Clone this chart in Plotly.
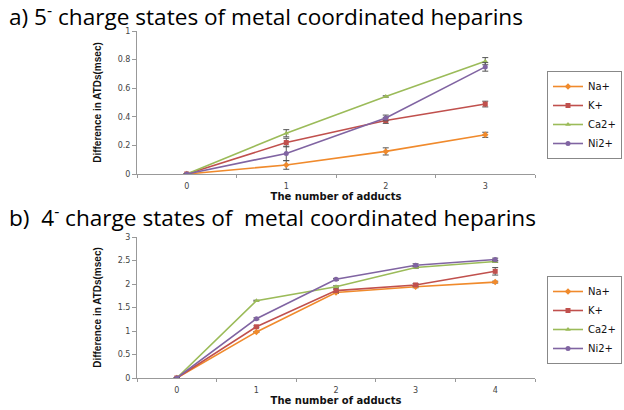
import plotly.graph_objects as go

series = ["Na+", "K+", "Ca2+", "Ni2+"]
colors = ["#F08A2C", "#C0504D", "#9BBB59", "#8064A2"]
symbols = ["diamond", "square", "triangle-up", "circle"]

# panel a) 5- charge states
x_a = [0, 1, 2, 3]
a_na = [0, 0.063, 0.158, 0.274]
a_k = [0, 0.220, 0.374, 0.489]
a_ca = [0, 0.285, 0.542, 0.789]
a_ni = [0, 0.144, 0.392, 0.749]
a_na_err = [0, 0.03, 0.025, 0.018]
a_k_err = [0, 0.03, 0.02, 0.02]
a_ca_err = [0, 0.025, 0.005, 0.025]
a_ni_err = [0, 0.05, 0.02, 0.03]

# panel b) 4- charge states
x_b = [0, 1, 2, 3, 4]
b_na = [0, 0.98, 1.82, 1.94, 2.04]
b_k = [0, 1.09, 1.86, 1.98, 2.27]
b_ca = [0, 1.645, 1.94, 2.35, 2.48]
b_ni = [0, 1.26, 2.10, 2.40, 2.52]
b_na_err = [0, 0.01, 0.02, 0.02, 0.02]
b_k_err = [0, 0.02, 0.03, 0.03, 0.08]
b_ca_err = [0, 0.01, 0.02, 0.02, 0.02]
b_ni_err = [0, 0.02, 0.02, 0.03, 0.03]

title_a = "a) 5<sup>-</sup> charge states of metal coordinated heparins"
title_b = "b)  4<sup>-</sup> charge states of  metal coordinated heparins"
xtitle = "The number of adducts"
ytitle = "Difference in ATDs(msec)"

fig = go.Figure()

for name, col, sym, ys, es in zip(series, colors, symbols,
                                   [a_na, a_k, a_ca, a_ni],
                                   [a_na_err, a_k_err, a_ca_err, a_ni_err]):
    fig.add_trace(go.Scatter(
        x=x_a, y=ys, name=name, mode="lines+markers",
        line=dict(color=col, width=1.6),
        marker=dict(symbol=sym, size=5, color=col),
        error_y=dict(type="data", array=es, color="#555555", thickness=1, width=3),
        xaxis="x", yaxis="y", legend="legend"))

for name, col, sym, ys, es in zip(series, colors, symbols,
                                   [b_na, b_k, b_ca, b_ni],
                                   [b_na_err, b_k_err, b_ca_err, b_ni_err]):
    fig.add_trace(go.Scatter(
        x=x_b, y=ys, name=name, mode="lines+markers",
        line=dict(color=col, width=1.6),
        marker=dict(symbol=sym, size=5, color=col),
        error_y=dict(type="data", array=es, color="#555555", thickness=1, width=3),
        xaxis="x2", yaxis="y2", legend="legend2"))

W, H = 624, 410


def px(v):
    return v / W


def py(v):
    return 1 - v / H


xd = [px(137), px(535)]
ya = [py(174), py(31)]
yb = [py(378), py(237)]

tickfont = dict(family="DejaVu Sans", size=8, color="#444444")
axtitlefont = dict(family="Liberation Sans Narrow, Liberation Sans", size=10, color="#111111")

common_x = dict(showline=True, linecolor="#999999", linewidth=1, showgrid=False,
                zeroline=False, ticks="", tickfont=tickfont, automargin=False,
                ticklabelstandoff=4,
                title=dict(text="<b>" + xtitle + "</b>",
                           font=dict(family="DejaVu Sans", size=10, color="#111111"),
                           standoff=2))
common_y = dict(showline=True, linecolor="#999999", linewidth=1, showgrid=False,
                zeroline=False, ticks="outside", ticklen=4, tickcolor="#999999",
                tickfont=tickfont, automargin=False,
                title=dict(text="<b>" + ytitle + "</b>", font=axtitlefont, standoff=14))

legfont = dict(family="DejaVu Sans", size=10, color="#111111")

fig.update_layout(
    width=W, height=H, margin=dict(l=0, r=0, t=0, b=0, autoexpand=False),
    paper_bgcolor="white", plot_bgcolor="white",
    xaxis=dict(domain=xd, anchor="y", range=[-0.5, 3.5], tickvals=x_a,
               minor=dict(tickvals=[-0.5, 0.5, 1.5, 2.5, 3.5], ticks="outside",
                          ticklen=3, tickcolor="#999999"),
               **common_x),
    yaxis=dict(domain=ya, anchor="x", range=[0, 1], dtick=0.2, **common_y),
    xaxis2=dict(domain=xd, anchor="y2", range=[-0.5, 4.5], tickvals=x_b,
                minor=dict(tickvals=[-0.5, 0.5, 1.5, 2.5, 3.5, 4.5], ticks="outside",
                           ticklen=3, tickcolor="#999999"),
                **common_x),
    yaxis2=dict(domain=yb, anchor="x2", range=[0, 3], dtick=0.5, **common_y),
    legend=dict(x=px(547), y=py(115), xanchor="left", yanchor="middle",
                bordercolor="#888888", borderwidth=1, bgcolor="white",
                font=legfont, itemwidth=30, tracegroupgap=0),
    legend2=dict(x=px(547), y=py(320), xanchor="left", yanchor="middle",
                 bordercolor="#888888", borderwidth=1, bgcolor="white",
                 font=legfont, itemwidth=30, tracegroupgap=0),
    annotations=[
        dict(text=title_a, x=px(7), y=py(15), xref="paper", yref="paper",
             xanchor="left", yanchor="middle", showarrow=False,
             font=dict(family="Open Sans", size=22.6, color="#000000")),
        dict(text=title_b, x=px(7), y=py(216), xref="paper", yref="paper",
             xanchor="left", yanchor="middle", showarrow=False,
             font=dict(family="Open Sans", size=22.6, color="#000000")),
    ],
)

# remove the default 8px page margin so the figure fills the 624x410 window
fig.write_html("out.html",
               config={"displayModeBar": False},
               post_script="document.body.style.margin='0';document.body.style.overflow='hidden';")
